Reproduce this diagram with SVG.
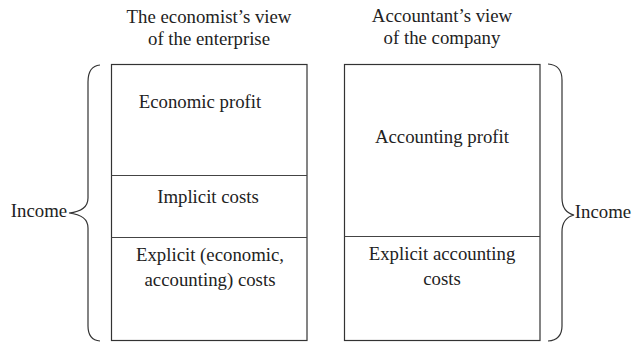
<svg xmlns="http://www.w3.org/2000/svg" width="632" height="343" viewBox="0 0 632 343">
<style>
text{font-family:'Liberation Serif','Times New Roman','DejaVu Serif',serif;font-size:18.8px;fill:#222;text-anchor:middle}
.box{fill:#fff;stroke:#333;stroke-width:1.2}
.div{stroke:#444;stroke-width:1}
.brace{fill:none;stroke:#333;stroke-width:1.2}
</style>
<rect width="632" height="343" fill="#fff"/>
<g id="title-left"><text x="209" y="23">The economist’s view</text><text x="209" y="45">of the enterprise</text></g>
<g id="title-right"><text x="442" y="22">Accountant’s view</text><text x="442" y="44">of the company</text></g>
<g id="box-economist">
<rect class="box" x="111.5" y="64.5" width="195.5" height="276"/>
<line class="div" x1="111.5" y1="175.5" x2="307" y2="175.5"/>
<line class="div" x1="111.5" y1="237.5" x2="307" y2="237.5"/>
<text x="200" y="108">Economic profit</text>
<text x="208" y="203">Implicit costs</text>
<text x="210" y="261">Explicit (economic,</text>
<text x="210" y="286">accounting) costs</text>
</g>
<g id="box-accountant">
<rect class="box" x="344.5" y="64.5" width="195.5" height="276"/>
<line class="div" x1="344.5" y1="236.5" x2="540" y2="236.5"/>
<text x="442" y="143">Accounting profit</text>
<text x="442" y="260">Explicit accounting</text>
<text x="442" y="285">costs</text>
</g>
<g id="connectors">
<path class="brace" d="M100,65 Q88,66 88,82 L88,198 Q88,211 69,213 Q88,215 88,228 L88,326 Q88,340 100,341"/>
<path class="brace" d="M548,64 Q562,65 562,80 L562,198 Q562,212 574,215 Q562,218 562,232 L562,326 Q562,340 548,341"/>
</g>
<g id="income-left"><text x="39" y="217">Income</text></g>
<g id="income-right"><text x="603" y="218">Income</text></g>
</svg>
